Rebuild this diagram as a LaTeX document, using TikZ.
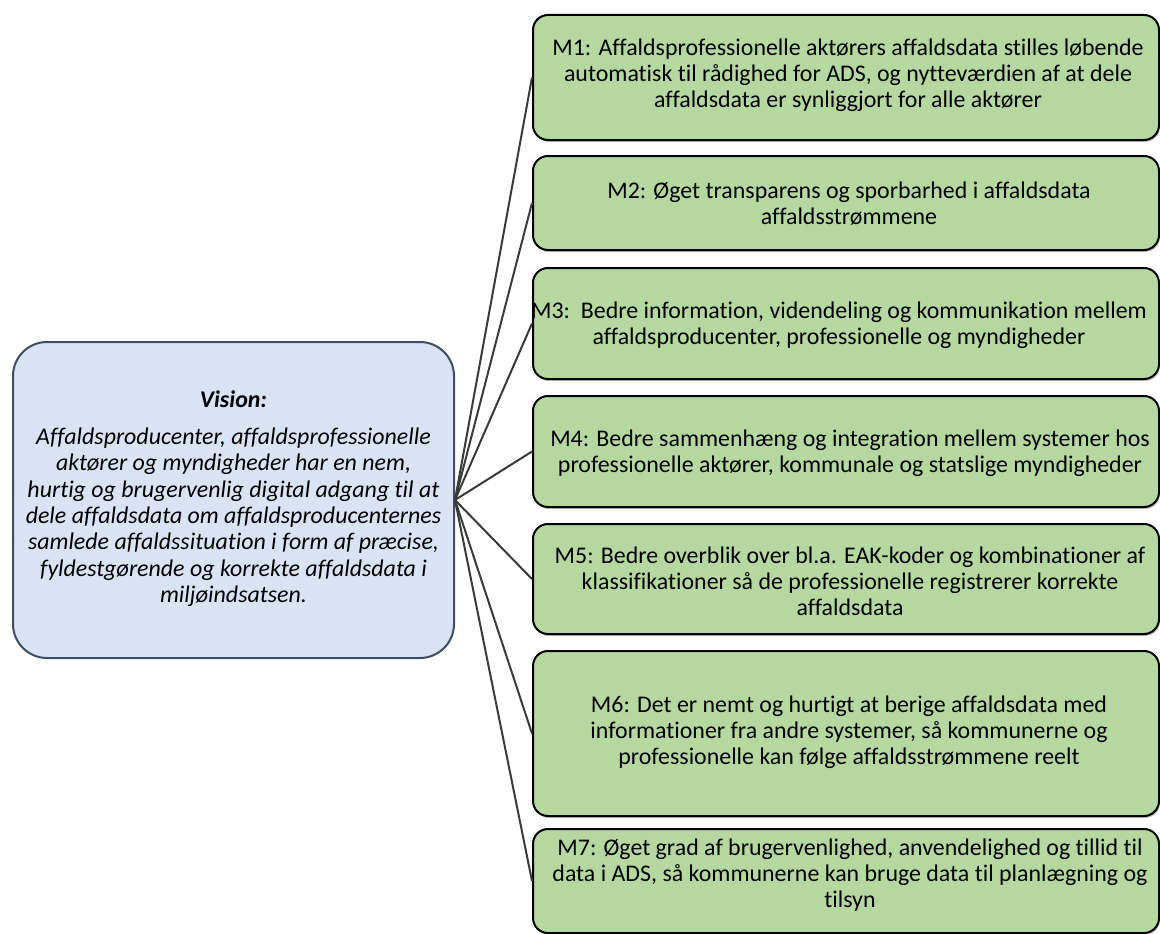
\documentclass[tikz,border=0pt]{standalone}
\usepackage{fontspec}
\setmainfont{Carlito}[Ligatures=NoCommon]
\usetikzlibrary{shadows}
\definecolor{goalfill}{HTML}{B5D8A0}
\definecolor{visionfill}{HTML}{DAE3F3}
\definecolor{visionedge}{HTML}{3E4D61}
\definecolor{linkgray}{HTML}{3A3A3A}
\begin{document}
\begin{tikzpicture}[x=1pt,y=-1pt,
  goalbox/.style={draw=black, line width=2pt, fill=goalfill, rounded corners=15pt,
    minimum width=626pt, anchor=north west, inner sep=0pt,
    drop shadow={shadow xshift=1pt, shadow yshift=-2pt, fill=black, opacity=0.25}},
  visionbox/.style={draw=visionedge, line width=2pt, fill=visionfill, rounded corners=34pt,
    minimum width=441pt, minimum height=316pt, anchor=north west, inner sep=0pt},
  boxtext/.style={align=center, inner sep=0pt, font=\fontsize{23.9}{26}\selectfont},
  visiontext/.style={align=center, inner sep=0pt, font=\fontsize{23.9}{26.4}\selectfont\itshape},
  link/.style={draw=linkgray, line width=2pt}]
\useasboundingbox (0,0) rectangle (1160,934);

% central vision box
\node[visionbox] (vision) at (12,341) {};
\node[visiontext] (visiontxt) at ([yshift=1pt]vision.center)
  {\textbf{Vision:}\\[10pt]
   Affaldsproducenter, affaldsprofessionelle\\
   aktører og myndigheder har en nem,\\
   hurtig og brugervenlig digital adgang til at\\
   dele affaldsdata om affaldsproducenternes\\
   samlede affaldssituation i form af præcise,\\
   fyldestgørende og korrekte affaldsdata i\\
   miljøindsatsen.};

% goal boxes
\node[goalbox, minimum height=125pt] (m1) at (532,14) {};
\node[goalbox, minimum height=94pt]  (m2) at (532,155) {};
\node[goalbox, minimum height=111pt] (m3) at (532,267) {};
\node[goalbox, minimum height=111pt] (m4) at (532,395) {};
\node[goalbox, minimum height=110pt] (m5) at (532,523) {};
\node[goalbox, minimum height=165pt] (m6) at (532,650) {};
\node[goalbox, minimum height=104pt] (m7) at (532,828) {};

\node[boxtext] (t1) at ([xshift=2pt,yshift=2pt]m1.center)
  {M1: Affaldsprofessionelle aktørers affaldsdata stilles løbende\\
   automatisk til rådighed for ADS, og nytteværdien af at dele\\
   affaldsdata er synliggjort for alle aktører};
\node[boxtext] (t2) at ([xshift=3pt,yshift=-1pt]m2.center)
  {M2: Øget transparens og sporbarhed i affaldsdata\\
   affaldsstrømmene};
\node[boxtext] (t3) at ([xshift=-7pt,yshift=-2pt]m3.center)
  {M3:\ \ Bedre information, videndeling og kommunikation mellem\\
   affaldsproducenter, professionelle og myndigheder};
\node[boxtext] (t4) at ([xshift=4pt,yshift=-2pt]m4.center)
  {M4: Bedre sammenhæng og integration mellem systemer hos\\
   professionelle aktører, kommunale og statslige myndigheder};
\node[boxtext] (t5) at ([xshift=4pt,yshift=-2pt]m5.center)
  {M5: Bedre overblik over bl.a. EAK-koder og kombinationer af\\
   klassifikationer så de professionelle registrerer korrekte\\
   affaldsdata};
\node[boxtext] (t6) at ([xshift=3pt,yshift=1pt]m6.center)
  {M6: Det er nemt og hurtigt at berige affaldsdata med\\
   informationer fra andre systemer, så kommunerne og\\
   professionelle kan følge affaldsstrømmene reelt};
\node[boxtext] (t7) at ([xshift=4pt,yshift=6pt]m7.center)
  {M7: Øget grad af brugervenlighed, anvendelighed og tillid til\\
   data i ADS, så kommunerne kan bruge data til planlægning og\\
   tilsyn};

% connectors from the vision to each goal
\foreach \m in {m1,m2,m3,m4,m5,m6,m7}
  \draw[link] (vision.east) -- (\m.west);
\end{tikzpicture}
\end{document}
